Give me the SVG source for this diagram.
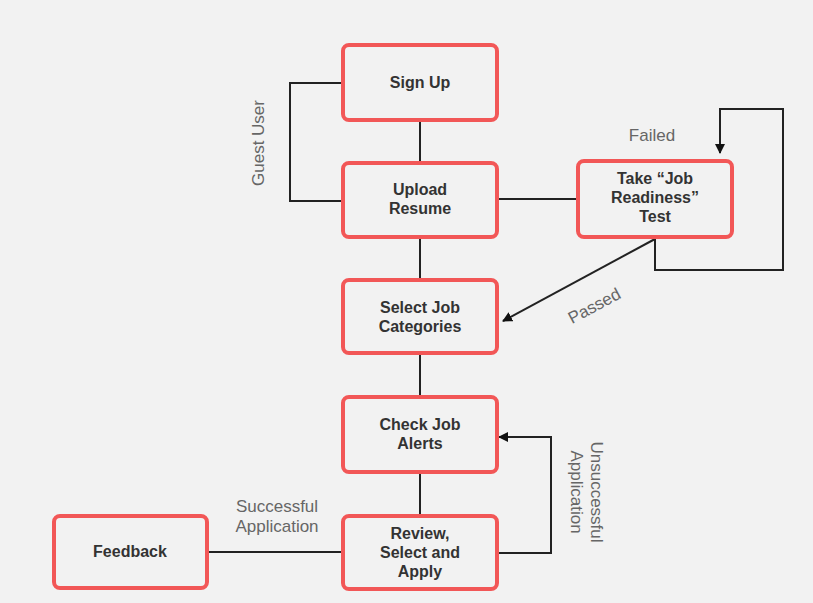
<svg xmlns="http://www.w3.org/2000/svg" width="813" height="603" viewBox="0 0 813 603">
<defs>
<style>
.box{fill:#f2f2f2;stroke:#f25757;stroke-width:4}
.t{font-family:"Liberation Sans",Arial,sans-serif;font-weight:700;font-size:16px;fill:#333;text-anchor:middle}
.l{font-family:"Liberation Sans",Arial,sans-serif;font-size:17px;fill:#666;text-anchor:middle}
.c{fill:none;stroke:#222;stroke-width:2}
</style>
<marker id="ah" markerWidth="10" markerHeight="10" refX="9" refY="5" orient="auto" markerUnits="userSpaceOnUse" viewBox="0 0 10 10">
<path d="M0,0 L10,5 L0,10 z" fill="#111"/>
</marker>
</defs>
<rect width="813" height="603" fill="#f2f2f2"/>
<g id="connectors">
<path class="c" d="M420,120 V163"/>
<path class="c" d="M420,237 V280"/>
<path class="c" d="M420,353 V397"/>
<path class="c" d="M420,472 V516"/>
<path class="c" d="M343,83 H290 V201 H343"/>
<path class="c" d="M497,199 H578"/>
<path class="c" d="M655,237 V270 H783 V109 H720 V153" marker-end="url(#ah)"/>
<path class="c" d="M655,239 L503,321" marker-end="url(#ah)"/>
<path class="c" d="M497,553 H551 V437 H499" marker-end="url(#ah)"/>
<path class="c" d="M207,552 H343"/>
</g>
<g id="labels">
<text class="l" transform="translate(264,143) rotate(-90)">Guest User</text>
<text class="l" x="652" y="141">Failed</text>
<text class="l" transform="translate(597,311) rotate(-28)">Passed</text>
<text class="l" x="277" y="512">Successful</text>
<text class="l" x="277" y="532">Application</text>
<text class="l" transform="translate(591,492) rotate(90)">Unsuccessful</text>
<text class="l" transform="translate(571,492) rotate(90)">Application</text>
</g>
<g id="signup"><rect class="box" x="343" y="45" width="154" height="75" rx="6"/><text class="t" x="420" y="88">Sign Up</text></g>
<g id="upload"><rect class="box" x="343" y="163" width="154" height="74" rx="6"/><text class="t" x="420" y="195">Upload</text><text class="t" x="420" y="214">Resume</text></g>
<g id="test"><rect class="box" x="578" y="161" width="154" height="76" rx="6"/><text class="t" x="655" y="184">Take “Job</text><text class="t" x="655" y="203">Readiness”</text><text class="t" x="655" y="222">Test</text></g>
<g id="categories"><rect class="box" x="343" y="280" width="154" height="73" rx="6"/><text class="t" x="420" y="313">Select Job</text><text class="t" x="420" y="332">Categories</text></g>
<g id="alerts"><rect class="box" x="343" y="397" width="154" height="75" rx="6"/><text class="t" x="420" y="430">Check Job</text><text class="t" x="420" y="449">Alerts</text></g>
<g id="review"><rect class="box" x="343" y="516" width="154" height="73" rx="6"/><text class="t" x="420" y="539">Review,</text><text class="t" x="420" y="558">Select and</text><text class="t" x="420" y="577">Apply</text></g>
<g id="feedback"><rect class="box" x="54" y="516" width="153" height="72" rx="6"/><text class="t" x="130" y="557">Feedback</text></g>
</svg>
